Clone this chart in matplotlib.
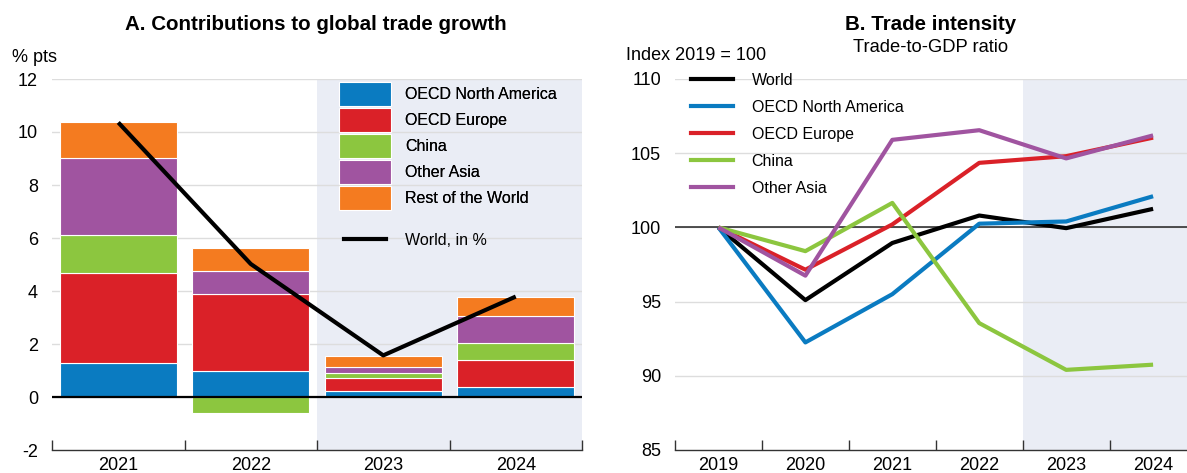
import matplotlib

matplotlib.use("Agg")
import matplotlib.pyplot as plt
import numpy as np
from matplotlib.patches import Patch
from matplotlib.lines import Line2D

# ---- data -------------------------------------------------------------
years_a = ["2021", "2022", "2023", "2024"]
na_contrib = [1.30, 0.97, 0.21, 0.38]
eur_contrib = [3.37, 2.91, 0.49, 1.03]
china_contrib = [1.43, -0.60, 0.20, 0.61]
asia_contrib = [2.92, 0.86, 0.25, 1.02]
row_contrib = [1.34, 0.89, 0.41, 0.75]
world_growth = [10.36, 5.02, 1.57, 3.79]

years_b = [2019, 2020, 2021, 2022, 2023, 2024]
world_idx = [100.0, 95.1, 98.95, 100.8, 99.95, 101.25]
na_idx = [100.0, 92.25, 95.5, 100.25, 100.4, 102.1]
eur_idx = [100.0, 97.15, 100.2, 104.35, 104.8, 106.05]
china_idx = [100.0, 98.4, 101.65, 93.55, 90.4, 90.75]
asia_idx = [100.0, 96.75, 105.9, 106.55, 104.65, 106.2]

C_NA = "#0a7bc1"
C_EUR = "#da2128"
C_CHINA = "#8cc63f"
C_ASIA = "#a054a0"
C_ROW = "#f47b20"
C_SHADE = "#eaedf5"
C_GRID = "#dddddd"

W, H = 1187, 473

plt.rcParams.update({
    "font.family": "Liberation Sans",
    "font.size": 13,
    "axes.unicode_minus": False,
})


def fx(px):
    return px / W


def fy(py):
    return 1 - py / H


fig = plt.figure(figsize=(W / 100, H / 100), dpi=100)
ax_a = fig.add_axes([fx(52), fy(450), 530 / W, 371 / H])
ax_b = fig.add_axes([fx(675), fy(450), 512 / W, 371 / H])

# ---- panel A ----------------------------------------------------------
x = np.arange(len(years_a))
ax_a.axvspan(1.5, 3.5, color=C_SHADE, lw=0, zorder=0)
for v in range(0, 13, 2):
    ax_a.axhline(v, color=C_GRID, lw=1.0, zorder=0.5)

pos_base = np.zeros(len(x))
neg_base = np.zeros(len(x))
for vals, col in [(na_contrib, C_NA), (eur_contrib, C_EUR),
                  (china_contrib, C_CHINA), (asia_contrib, C_ASIA),
                  (row_contrib, C_ROW)]:
    vals = np.asarray(vals)
    base = np.where(vals >= 0, pos_base, neg_base)
    ax_a.bar(x, vals, bottom=base, width=0.88, color=col,
             edgecolor="white", lw=0.8, zorder=2)
    pos_base = pos_base + np.where(vals >= 0, vals, 0)
    neg_base = neg_base + np.where(vals < 0, vals, 0)

ax_a.axhline(0, color="black", lw=1.6, zorder=3)
ax_a.plot(x, world_growth, color="black", lw=3.0, zorder=4,
          solid_capstyle="butt")

ax_a.set_xlim(-0.5, 3.5)
ax_a.set_ylim(-2, 12)
ax_a.set_yticks(range(-2, 13, 2))
ax_a.set_xticks(x)
ax_a.set_xticklabels(years_a)
ax_a.set_xticks(np.arange(-0.5, 3.6, 1.0), minor=True)

# ---- panel B ----------------------------------------------------------
ax_b.axvspan(2022.5, 2025, color=C_SHADE, lw=0, zorder=0)
for v in range(90, 111, 5):
    ax_b.axhline(v, color=C_GRID, lw=1.0, zorder=0.5)
ax_b.axhline(100, color="#222222", lw=1.1, zorder=1)

series_b = [("World", world_idx, "black"),
            ("OECD North America", na_idx, C_NA),
            ("OECD Europe", eur_idx, C_EUR),
            ("China", china_idx, C_CHINA),
            ("Other Asia", asia_idx, C_ASIA)]
for name, vals, col in series_b:
    ax_b.plot(years_b, vals, color=col, lw=3.0, zorder=3,
              solid_capstyle="butt")

ax_b.set_xlim(2018.5, 2024.39)
ax_b.set_ylim(85, 110)
ax_b.set_yticks(range(85, 111, 5))
ax_b.set_xticks(years_b)
ax_b.set_xticks(np.arange(2018.5, 2024.4, 1.0), minor=True)

# ---- common axis styling ---------------------------------------------
for ax in (ax_a, ax_b):
    for s in ("top", "right", "left"):
        ax.spines[s].set_visible(False)
    ax.spines["bottom"].set_color("#333333")
    ax.spines["bottom"].set_linewidth(1.0)
    ax.spines["bottom"].set_zorder(5)
    ax.tick_params(axis="y", length=0, pad=10, labelsize=13)
    ax.tick_params(axis="x", which="major", length=0, pad=5, labelsize=13)
    ax.tick_params(axis="x", which="minor", direction="in", length=7,
                   width=1.0, color="#333333")
    ax.patch.set_visible(False)

# ---- legends ----------------------------------------------------------
bar_handles = [Patch(facecolor=c, edgecolor="white", lw=0.8)
               for c in (C_NA, C_EUR, C_CHINA, C_ASIA, C_ROW)]
bar_labels = ["OECD North America", "OECD Europe", "China", "Other Asia",
              "Rest of the World"]
leg1 = fig.legend(bar_handles, bar_labels, loc="upper left",
                  bbox_to_anchor=(fx(339), fy(82)), frameon=False,
                  fontsize=11.5, handlelength=3.25, handleheight=1.96,
                  labelspacing=0.11, handletextpad=0.9, borderpad=0,
                  borderaxespad=0)
fig.legend([Line2D([], [], color="black", lw=3.0)], ["World, in %"],
           loc="center left", bbox_to_anchor=(fx(344), fy(240)),
           frameon=False, fontsize=11.5, handlelength=2.6,
           handletextpad=1.2, borderpad=0, borderaxespad=0)
fig.add_artist(leg1)

line_handles = [Line2D([], [], color=c, lw=3.0) for _, _, c in series_b]
fig.legend(line_handles, [n for n, _, _ in series_b], loc="upper left",
           bbox_to_anchor=(fx(691), fy(73)), frameon=False, fontsize=11.5,
           handlelength=2.6, handletextpad=1.2, labelspacing=0.75,
           borderpad=0, borderaxespad=0)

# ---- titles -----------------------------------------------------------
fig.text(fx(316), fy(25), "A. Contributions to global trade growth",
         ha="center", va="center", fontsize=14.8, fontweight="bold")
fig.text(fx(12), fy(57), "% pts", ha="left", va="center", fontsize=13)
fig.text(fx(931), fy(24), "B. Trade intensity", ha="center", va="center",
         fontsize=14.8, fontweight="bold")
fig.text(fx(931), fy(47), "Trade-to-GDP ratio", ha="center", va="center",
         fontsize=13.2)
fig.text(fx(626), fy(56), "Index 2019 = 100", ha="left", va="center",
         fontsize=13)

fig.savefig("out.png", dpi=100)
